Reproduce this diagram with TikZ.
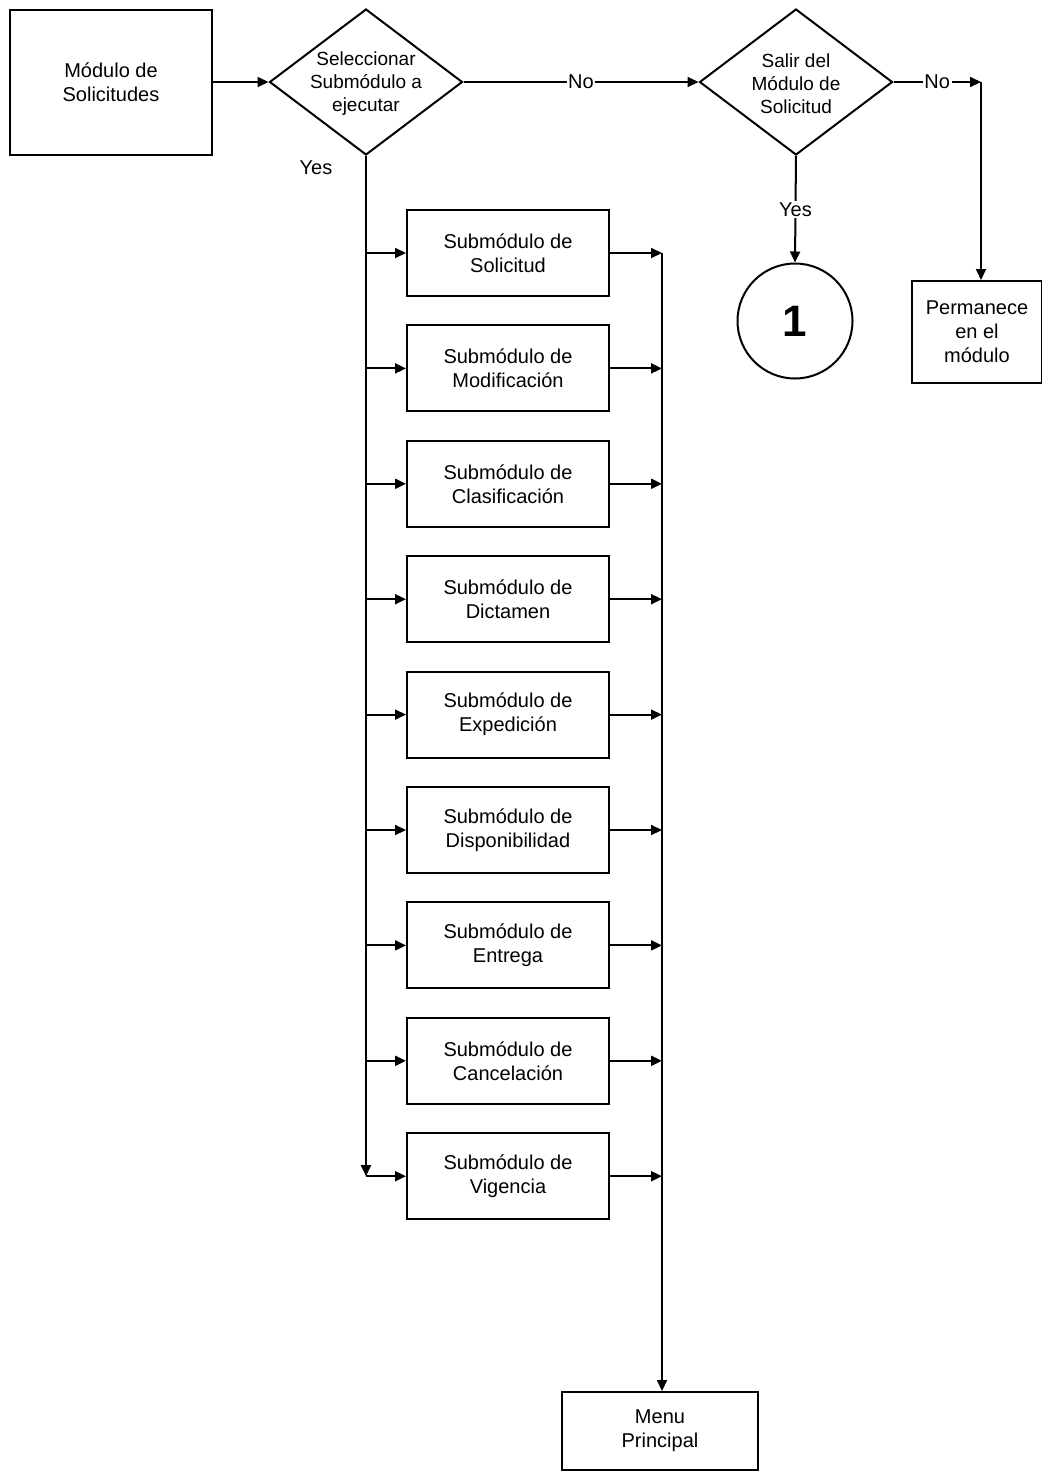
\documentclass[tikz,border=0pt]{standalone}
\usepackage{fontspec}
\setmainfont{Liberation Sans}
\usetikzlibrary{arrows.meta,shapes.geometric}
\begin{document}
\begin{tikzpicture}[x=1pt,y=-1pt,
  every node/.style={font=\fontsize{20}{24}\selectfont, align=center},
  box/.style={draw, line width=2pt, minimum width=202pt, minimum height=86pt, inner sep=0pt},
  dec/.style={draw, diamond, line width=2pt, minimum width=193pt, minimum height=146pt, inner sep=0pt},
  arr/.style={line width=2pt, -{Triangle[length=11pt,width=10pt]}},
  lbl/.style={fill=white, inner sep=1.5pt}]
\useasboundingbox[fill=white] (0,0) rectangle (1042,1476);

\node[box, minimum height=145pt] (mod) at (111,82) {Módulo de\\Solicitudes};
\node[dec] (d1) at (366,82) {};
\node[font=\fontsize{19}{23}\selectfont] (t1) at (366,84) {Seleccionar\\Submódulo a\\ejecutar};
\node[dec] (d2) at (796,82) {};
\node[font=\fontsize{19}{23}\selectfont] (t2) at (796,84) {Salir del\\Módulo de\\Solicitud};
\node[draw, circle, line width=2pt, minimum size=115pt, inner sep=0pt] (c1) at (795,321) {\fontsize{44}{44}\selectfont\bfseries 1};
\node[box, minimum width=130pt, minimum height=102pt] (perm) at (977,332) {Permanece\\en el\\módulo};
\node[box, minimum width=196pt, minimum height=78pt] (menu) at (660,1431) {Menu\\Principal};

\foreach \n/\t [count=\i from 0] in {s1/Solicitud,s2/Modificación,s3/Clasificación,s4/Dictamen,s5/Expedición,s6/Disponibilidad,s7/Entrega,s8/Cancelación,s9/Vigencia}
  \node[box] (\n) at (508,{253+115.4*\i}) {Submódulo de\\\t};

\coordinate (rb) at (662,253);
\coordinate (pr) at (981,82);

\draw[arr] (mod.east) -- (d1.west);
\draw[arr] (d1.east) -- node[lbl] (no1) {No} (d2.west);
\draw[arr] (d2.east) -- node[lbl] (no2) {No} (pr);
\draw[arr] (pr) -- (perm.north -| pr);
\draw[arr] (d2.south) -- node[lbl] (yes2) {Yes} (c1.north);
\node (yes1) at (316,168) {Yes};

\draw[arr] (d1.south) -- (s9.west -| d1.south);
\draw[arr] (s9.west -| d1.south) -- (s9.west);
\foreach \n in {s1,s2,s3,s4,s5,s6,s7,s8}
  \draw[arr] (\n.west -| d1.south) -- (\n.west);
\foreach \n in {s1,s2,s3,s4,s5,s6,s7,s8,s9}
  \draw[arr] (\n.east) -- (\n.east -| rb);
\draw[arr] (rb) -- (menu.north -| rb);
\end{tikzpicture}
\end{document}
